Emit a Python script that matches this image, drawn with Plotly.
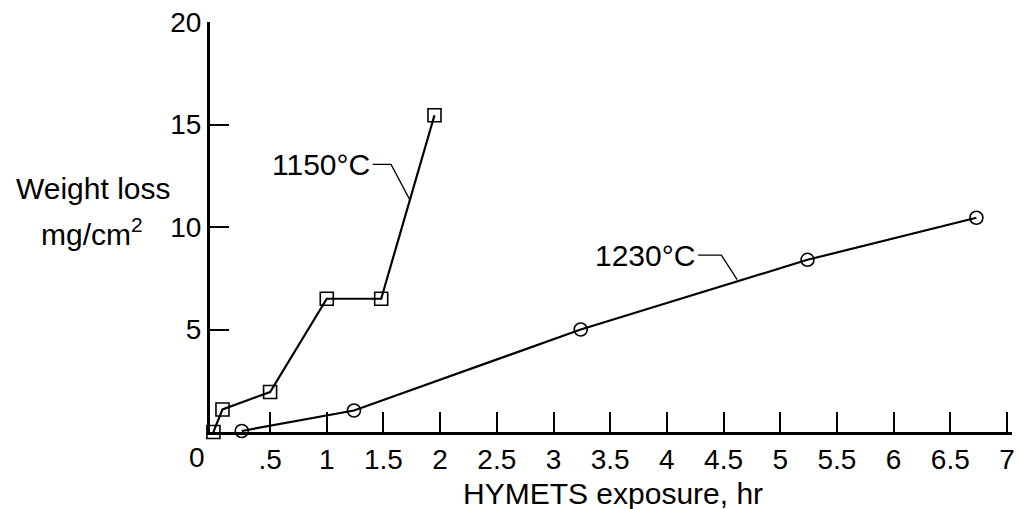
import plotly.graph_objects as go

# Data
x_1150 = [0.0, 0.08, 0.5, 1.0, 1.48, 1.95]
y_1150 = [0.0, 1.1, 1.95, 6.5, 6.5, 15.45]
x_1230 = [0.25, 1.24, 3.24, 5.24, 6.73]
y_1230 = [0.05, 1.05, 5.0, 8.4, 10.45]

x_tickvals = [0.5, 1, 1.5, 2, 2.5, 3, 3.5, 4, 4.5, 5, 5.5, 6, 6.5, 7]
x_ticktext = [".5", "1", "1.5", "2", "2.5", "3", "3.5", "4", "4.5", "5", "5.5", "6", "6.5", "7"]
x_origin_label = "0"
y_tickvals = [5, 10, 15, 20]
y_ticktext = ["5", "10", "15", "20"]

FONT = "Liberation Sans, Arial, Helvetica, sans-serif"
TICK_SIZE = 28
TEXT_SIZE = 30

fig = go.Figure()
fig.add_trace(go.Scatter(
    x=x_1150, y=y_1150, mode="lines+markers", cliponaxis=False,
    line=dict(color="black", width=2.2),
    marker=dict(symbol="square-open", size=13, color="black", line=dict(width=1.6)),
    showlegend=False, name="1150°C"))
fig.add_trace(go.Scatter(
    x=x_1230, y=y_1230, mode="lines+markers", cliponaxis=False,
    line=dict(color="black", width=2.2),
    marker=dict(symbol="circle-open", size=13, color="black", line=dict(width=1.6)),
    showlegend=False, name="1230°C"))

# leader lines
fig.add_trace(go.Scatter(x=[1.405, 1.567, 1.728], y=[13.05, 13.05, 11.37], mode="lines",
                         line=dict(color="black", width=1.3), showlegend=False, hoverinfo="skip"))
fig.add_trace(go.Scatter(x=[4.276, 4.48, 4.62], y=[8.63, 8.63, 7.43], mode="lines",
                         line=dict(color="black", width=1.3), showlegend=False, hoverinfo="skip"))

fig.add_annotation(x=1.395, y=13.05, text="1150°C", showarrow=False, xanchor="right",
                   font=dict(size=TEXT_SIZE, color="black", family=FONT))
fig.add_annotation(x=4.265, y=8.63, text="1230°C", showarrow=False, xanchor="right",
                   font=dict(size=TEXT_SIZE, color="black", family=FONT))

# x tick label "0" sits slightly left of the origin in the reference
fig.add_annotation(xref="paper", yref="paper", x=-0.016, y=-0.063, text=x_origin_label,
                   showarrow=False, xanchor="center", yanchor="middle",
                   font=dict(size=TICK_SIZE, color="black", family=FONT))

fig.add_annotation(xref="paper", yref="paper", x=-0.145, y=0.595, text="Weight loss",
                   showarrow=False, xanchor="center", yanchor="middle",
                   font=dict(size=TEXT_SIZE, color="black", family=FONT))
fig.add_annotation(xref="paper", yref="paper", x=-0.147, y=0.487, text="mg/cm<sup>2</sup>",
                   showarrow=False, xanchor="center", yanchor="middle",
                   font=dict(size=TEXT_SIZE, color="black", family=FONT))
fig.add_annotation(xref="paper", yref="paper", x=0.502, y=-0.151, text="HYMETS exposure, hr",
                   showarrow=False, xanchor="center", yanchor="middle",
                   font=dict(size=TEXT_SIZE, color="black", family=FONT))

fig.update_layout(
    width=1020, height=509,
    margin=dict(l=210, r=5, t=22, b=77),
    paper_bgcolor="white", plot_bgcolor="white",
    font=dict(family=FONT, color="black", size=TICK_SIZE),
    xaxis=dict(range=[-0.03, 7.044], tickvals=x_tickvals, ticktext=x_ticktext,
               ticks="inside", ticklen=20, tickwidth=2, tickcolor="black",
               showline=True, linecolor="black", linewidth=3, showgrid=False,
               zeroline=False, tickfont=dict(size=TICK_SIZE, color="black")),
    yaxis=dict(range=[0, 20], tickvals=y_tickvals, ticktext=y_ticktext,
               ticks="inside", ticklen=19, tickwidth=2, tickcolor="black",
               showline=True, linecolor="black", linewidth=3, showgrid=False,
               zeroline=False, tickfont=dict(size=TICK_SIZE, color="black")),
)

fig.write_html("out.html")
